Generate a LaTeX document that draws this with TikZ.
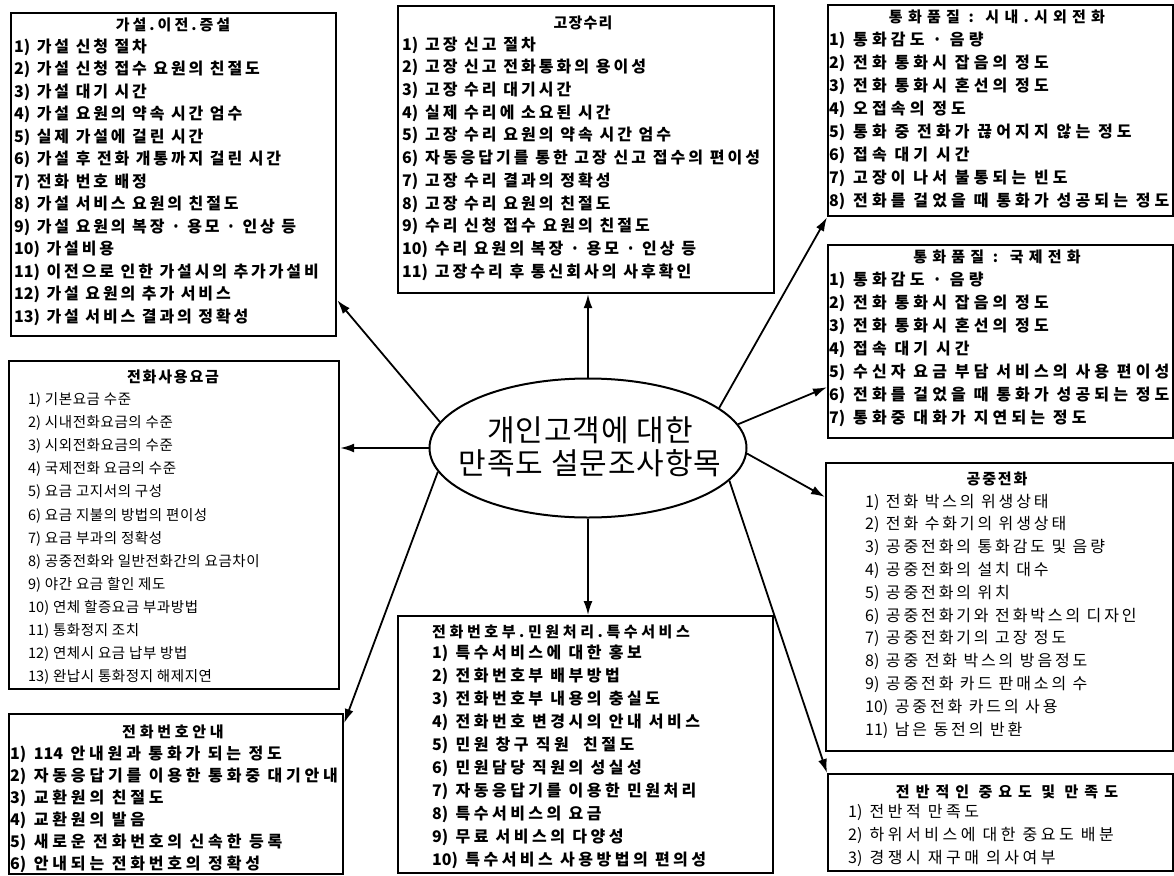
\documentclass[tikz,border=0pt]{standalone}
\usepackage{fontspec}
\setmainfont{Noto Sans CJK KR}
\usetikzlibrary{arrows.meta,shapes.geometric}
\newcommand\kf[2]{\fontsize{#1}{#1}\selectfont\addfontfeature{LetterSpace=#2}}
\newcommand\nols[1]{{\addfontfeature{LetterSpace=0}#1}}
\newcommand\itemlist[6]{%
  \foreach \n/\t [count=\i] in {#6} \node[itm, font={#5}] (#1-\i) at (#2, {#3+(\i-1)*#4}) {\nols{\n} \t};}
\tikzset{
  box/.style={draw, line width=2.2pt, anchor=north west, inner sep=0pt},
  itm/.style={anchor=west, inner sep=0pt},
  ttl/.style={inner sep=0pt},
  arr/.style={line width=1.8pt, -{Latex[length=14pt,width=9pt]}},
}
\begin{document}
\begin{tikzpicture}[x=1pt,y=-1pt]
\useasboundingbox (0,0) rectangle (1174,875);
\fill[white] (0,0) rectangle (1174,875);

% boxes
\node[box, minimum width=325pt, minimum height=323pt] (b1) at (10,12) {};
\node[box, minimum width=376pt, minimum height=287pt] (b2) at (397,5) {};
\node[box, minimum width=345pt, minimum height=211pt] (b3) at (827,4) {};
\node[box, minimum width=345pt, minimum height=193pt] (b4) at (827,244) {};
\node[box, minimum width=330pt, minimum height=328pt] (b5) at (8,360) {};
\node[box, minimum width=347pt, minimum height=288pt] (b6) at (825,462) {};
\node[box, minimum width=375pt, minimum height=257pt] (b7) at (397,615) {};
\node[box, minimum width=334pt, minimum height=160pt] (b8) at (8,713) {};
\node[box, minimum width=345pt, minimum height=97pt] (b9) at (827,773) {};

% centre
\node[ellipse, draw, line width=2pt, minimum width=317pt, minimum height=139pt, inner sep=0pt] (c) at (588,448) {};
\node[align=center, inner sep=0pt, font={\kf{30}{3}}] (ct) at (590,447) {개인고객에 대한\\[3pt]만족도 설문조사항목};

% titles
\node[ttl, font={\kf{15}{20}\bfseries}] (t1) at (173,25) {가설.이전.증설};
\node[ttl, font={\kf{15}{8}\bfseries}] (t2) at (583,23) {고장수리};
\node[ttl, font={\kf{15}{35}\bfseries}] (t3) at (997,17) {통화품질 : 시내.시외전화};
\node[ttl, font={\kf{15}{35}\bfseries}] (t4) at (997,257) {통화품질 : 국제전화};
\node[ttl, font={\kf{15}{12}\bfseries}] (t5) at (173,377) {전화사용요금};
\node[ttl, font={\kf{15}{12}\bfseries}] (t6) at (997,479) {공중전화};
\node[ttl, anchor=west, font={\kf{15}{24}\bfseries}] (t7) at (432,632) {전화번호부.민원처리.특수서비스};
\node[ttl, font={\kf{15}{25}\bfseries}] (t8) at (173,732) {전화번호안내};
\node[ttl, font={\kf{15}{40}\bfseries}] (t9) at (1007,792) {전반적인 중요도 및 만족도};

% items
\itemlist{i1}{14}{47}{22.5}{\kf{16}{18}\bfseries}{1)/가설 신청 절차, 2)/가설 신청 접수 요원의 친절도, 3)/가설 대기 시간, 4)/가설 요원의 약속 시간 엄수, 5)/실제 가설에 걸린 시간, 6)/가설 후 전화 개통까지 걸린 시간, 7)/전화 번호 배정, 8)/가설 서비스 요원의 친절도, 9)/가설 요원의 복장 · 용모 · 인상 등, 10)/가설비용, 11)/이전으로 인한 가설시의 추가가설비, 12)/가설 요원의 추가 서비스, 13)/가설 서비스 결과의 정확성}
\itemlist{i2}{402}{45}{22.7}{\kf{16}{19}\bfseries}{1)/고장 신고 절차, 2)/고장 신고 전화통화의 용이성, 3)/고장 수리 대기시간, 4)/실제 수리에 소요된 시간, 5)/고장 수리 요원의 약속 시간 엄수, 6)/자동응답기를 통한 고장 신고 접수의 편이성, 7)/고장 수리 결과의 정확성, 8)/고장 수리 요원의 친절도, 9)/수리 신청 접수 요원의 친절도, 10)/수리 요원의 복장 · 용모 · 인상 등, 11)/고장수리 후 통신회사의 사후확인}
\itemlist{i3}{829}{40}{23.1}{\kf{16}{26}\bfseries}{1)/통화감도 · 음량, 2)/전화 통화시 잡음의 정도, 3)/전화 통화시 혼선의 정도, 4)/오접속의 정도, 5)/통화 중 전화가 끊어지지 않는 정도, 6)/접속 대기 시간, 7)/고장이 나서 불통되는 빈도, 8)/전화를 걸었을 때 통화가 성공되는 정도}
\itemlist{i4}{829}{280}{23}{\kf{16}{26}\bfseries}{1)/통화감도 · 음량, 2)/전화 통화시 잡음의 정도, 3)/전화 통화시 혼선의 정도, 4)/접속 대기 시간, 5)/수신자 요금 부담 서비스의 사용 편이성, 6)/전화를 걸었을 때 통화가 성공되는 정도, 7)/통화중 대화가 지연되는 정도}
\itemlist{i5}{28}{400}{23.1}{\kf{14.5}{4}}{1)/기본요금 수준, 2)/시내전화요금의 수준, 3)/시외전화요금의 수준, 4)/국제전화 요금의 수준, 5)/요금 고지서의 구성, 6)/요금 지불의 방법의 편이성, 7)/요금 부과의 정확성, 8)/공중전화와 일반전화간의 요금차이, 9)/야간 요금 할인 제도, 10)/연체 할증요금 부과방법, 11)/통화정지 조치, 12)/연체시 요금 납부 방법, 13)/완납시 통화정지 해제지연}
\itemlist{i6}{865}{502}{22.8}{\kf{16}{18}}{1)/전화 박스의 위생상태, 2)/전화 수화기의 위생상태, 3)/공중전화의 통화감도 및 음량, 4)/공중전화의 설치 대수, 5)/공중전화의 위치, 6)/공중전화기와 전화박스의 디자인, 7)/공중전화기의 고장 정도, 8)/공중 전화 박스의 방음정도, 9)/공중전화 카드 판매소의 수, 10)/공중전화 카드의 사용, 11)/남은 동전의 반환}
\itemlist{i7}{432}{653}{23}{\kf{16}{22}\bfseries}{1)/특수서비스에 대한 홍보, 2)/전화번호부 배부방법, 3)/전화번호부 내용의 충실도, 4)/전화번호 변경시의 안내 서비스, 5)/민원 창구 직원~~친절도, 6)/민원담당 직원의 성실성, 7)/자동응답기를 이용한 민원처리, 8)/특수서비스의 요금, 9)/무료 서비스의 다양성, 10)/특수서비스 사용방법의 편의성}
\itemlist{i8}{10}{754}{22.1}{\kf{16}{24}\bfseries}{1)/\nols{114} 안내원과 통화가 되는 정도, 2)/자동응답기를 이용한 통화중 대기안내, 3)/교환원의 친절도, 4)/교환원의 발음, 5)/새로운 전화번호의 신속한 등록, 6)/안내되는 전화번호의 정확성}
\itemlist{i9}{848}{812}{23}{\kf{16}{22}}{1)/전반적 만족도, 2)/하위서비스에 대한 중요도 배분, 3)/경쟁시 재구매 의사여부}

% connectors
\draw[arr] (c.170.4) -- ([yshift=37pt]b1.south east);
\draw[arr] (c.north) -- (c.north |- b2.south);
\draw[arr] (c.17) -- (b3.south west);
\draw[arr] (c.9.5) -- ([yshift=52pt]b4.south west);
\draw[arr] (c.-2) -- ([yshift=-35pt]b6.north west);
\draw[arr] (c.-13) -- (b9.north west);
\draw[arr] (c.south) -- (c.south |- b7.north);
\draw[arr] (c.189.6) -- ([yshift=-10pt]b8.north east);
\draw[arr] (c.west) -- (c.west -| b5.east);
\end{tikzpicture}
\end{document}
